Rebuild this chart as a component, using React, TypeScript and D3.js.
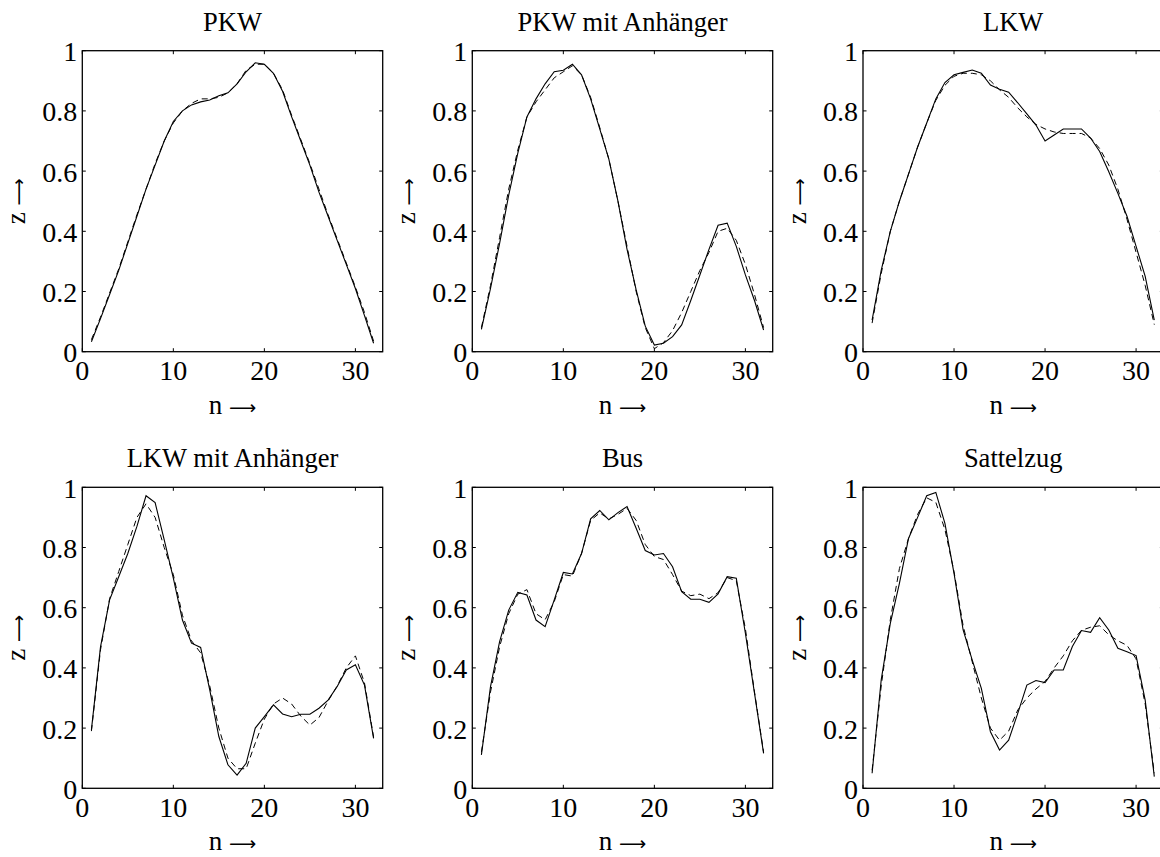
import React from "react";
import * as d3 from "d3";

const titles = ["PKW", "PKW mit Anhänger", "LKW", "LKW mit Anhänger", "Bus", "Sattelzug"];
const xTicks = [0, 10, 20, 30];
const yTicks = [0, 0.2, 0.4, 0.6, 0.8, 1];
const yTickLabels = ["0", "0.2", "0.4", "0.6", "0.8", "1"];

const pkwSolid = [0.033, 0.11, 0.19, 0.27, 0.36, 0.45, 0.54, 0.62, 0.7, 0.765, 0.8, 0.82, 0.83, 0.836, 0.85, 0.86, 0.89, 0.93, 0.96, 0.955, 0.925, 0.865, 0.78, 0.7, 0.62, 0.53, 0.45, 0.37, 0.29, 0.21, 0.12, 0.028];
const pkwDashed = [0.04, 0.115, 0.195, 0.275, 0.365, 0.455, 0.54, 0.625, 0.7, 0.76, 0.8, 0.825, 0.84, 0.84, 0.845, 0.86, 0.89, 0.935, 0.955, 0.955, 0.925, 0.87, 0.785, 0.705, 0.625, 0.54, 0.455, 0.375, 0.295, 0.215, 0.13, 0.035];

const pkwaSolid = [0.074, 0.21, 0.36, 0.52, 0.66, 0.78, 0.84, 0.89, 0.93, 0.935, 0.955, 0.92, 0.84, 0.74, 0.64, 0.5, 0.34, 0.205, 0.085, 0.022, 0.028, 0.05, 0.089, 0.17, 0.255, 0.34, 0.42, 0.427, 0.35, 0.255, 0.17, 0.072];
const pkwaDashed = [0.08, 0.22, 0.38, 0.54, 0.67, 0.78, 0.83, 0.87, 0.91, 0.93, 0.95, 0.92, 0.845, 0.745, 0.64, 0.5, 0.35, 0.2, 0.08, 0.01, 0.03, 0.07, 0.13, 0.2, 0.27, 0.33, 0.4, 0.41, 0.37, 0.29, 0.19, 0.08];

const lkwSolid = [0.105, 0.27, 0.4, 0.5, 0.59, 0.68, 0.76, 0.84, 0.894, 0.92, 0.928, 0.936, 0.925, 0.886, 0.872, 0.862, 0.827, 0.79, 0.753, 0.7, 0.72, 0.74, 0.74, 0.74, 0.71, 0.665, 0.598, 0.526, 0.45, 0.35, 0.25, 0.105];
const lkwDashed = [0.095, 0.26, 0.4, 0.5, 0.59, 0.68, 0.76, 0.835, 0.885, 0.915, 0.925, 0.925, 0.92, 0.9, 0.87, 0.845, 0.81, 0.78, 0.755, 0.74, 0.73, 0.725, 0.725, 0.725, 0.71, 0.675, 0.62, 0.54, 0.44, 0.33, 0.22, 0.09];

const lkwaSolid = [0.194, 0.47, 0.626, 0.703, 0.78, 0.87, 0.972, 0.949, 0.825, 0.698, 0.559, 0.482, 0.468, 0.327, 0.172, 0.078, 0.044, 0.083, 0.2, 0.238, 0.277, 0.247, 0.238, 0.246, 0.246, 0.266, 0.293, 0.338, 0.393, 0.41, 0.343, 0.166];
const lkwaDashed = [0.19, 0.46, 0.63, 0.72, 0.81, 0.9, 0.945, 0.9, 0.8, 0.71, 0.575, 0.49, 0.45, 0.34, 0.2, 0.1, 0.065, 0.065, 0.15, 0.23, 0.28, 0.3, 0.28, 0.24, 0.21, 0.235, 0.29, 0.34, 0.4, 0.44, 0.35, 0.17];

const busSolid = [0.111, 0.338, 0.487, 0.592, 0.651, 0.642, 0.559, 0.537, 0.626, 0.717, 0.712, 0.78, 0.895, 0.923, 0.892, 0.916, 0.936, 0.864, 0.79, 0.775, 0.78, 0.736, 0.653, 0.628, 0.628, 0.618, 0.646, 0.703, 0.698, 0.515, 0.316, 0.116];
const busDashed = [0.12, 0.32, 0.47, 0.58, 0.645, 0.66, 0.58, 0.56, 0.62, 0.71, 0.705, 0.78, 0.89, 0.915, 0.895, 0.91, 0.93, 0.89, 0.81, 0.77, 0.76, 0.71, 0.655, 0.64, 0.645, 0.63, 0.65, 0.7, 0.69, 0.53, 0.32, 0.12];

const sattelSolid = [0.05, 0.36, 0.548, 0.681, 0.83, 0.9, 0.972, 0.983, 0.88, 0.714, 0.526, 0.426, 0.332, 0.188, 0.127, 0.16, 0.249, 0.343, 0.358, 0.351, 0.393, 0.393, 0.471, 0.524, 0.518, 0.567, 0.526, 0.465, 0.454, 0.441, 0.293, 0.039];
const sattelDashed = [0.06, 0.34, 0.56, 0.73, 0.83, 0.91, 0.965, 0.95, 0.86, 0.72, 0.54, 0.42, 0.3, 0.2, 0.16, 0.19, 0.26, 0.3, 0.33, 0.355, 0.4, 0.44, 0.49, 0.525, 0.535, 0.54, 0.51, 0.49, 0.475, 0.43, 0.28, 0.05];

const solidSeries = [pkwSolid, pkwaSolid, lkwSolid, lkwaSolid, busSolid, sattelSolid];
const dashedSeries = [pkwDashed, pkwaDashed, lkwDashed, lkwaDashed, busDashed, sattelDashed];

const W = 1160;
const H = 857;
const colLefts = [82.3, 472.3, 863];
const rowTops = [50.7, 487.3];
const PW = 300.4;
const PH = 301;
const FONT = '"Liberation Serif", "DejaVu Serif", serif';
const TICK_FS = 28;
const TITLE_FS = 26.5;
const LABEL_FS = 27;
const TICK = 3.5;
const tickStyle = { fontFamily: FONT, fontSize: TICK_FS + "px" };
const titleStyle = { fontFamily: FONT, fontSize: TITLE_FS + "px" };
const labelStyle = { fontFamily: FONT, fontSize: LABEL_FS + "px" };
const arrowStyle = { fontFamily: '"DejaVu Sans", sans-serif', fontSize: "19px" };

function Panel({ idx }: { idx: number }) {
  const left = colLefts[idx % 3];
  const top = rowTops[Math.floor(idx / 3)];
  const x = d3.scaleLinear().domain([0, 33]).range([left, left + PW]);
  const y = d3.scaleLinear().domain([0, 1]).range([top + PH, top]);
  const line = d3
    .line<number>()
    .x((_, i) => x(i + 1))
    .y((d) => y(d));
  const bottom = top + PH;
  const right = left + PW;
  return (
    <g>
      <text x={left + PW / 2} y={top - 20} textAnchor="middle" style={titleStyle}>
        {titles[idx]}
      </text>
      <path d={line(solidSeries[idx]) || ""} fill="none" stroke="#000" strokeWidth={1.1} />
      <path d={line(dashedSeries[idx]) || ""} fill="none" stroke="#000" strokeWidth={1} strokeDasharray="6,4" />
      <rect x={left} y={top} width={PW} height={PH} fill="none" stroke="#000" strokeWidth={1.3} />
      {xTicks.map((t) => (
        <g key={"x" + t}>
          <line x1={x(t)} x2={x(t)} y1={bottom} y2={bottom - TICK} stroke="#000" />
          <line x1={x(t)} x2={x(t)} y1={top} y2={top + TICK} stroke="#000" />
          <text x={x(t)} y={bottom + 28.5} textAnchor="middle" style={tickStyle}>
            {t}
          </text>
        </g>
      ))}
      {yTicks.map((t, i) => (
        <g key={"y" + t}>
          <line x1={left} x2={left + TICK} y1={y(t)} y2={y(t)} stroke="#000" />
          <line x1={right} x2={right - TICK} y1={y(t)} y2={y(t)} stroke="#000" />
          <text x={left - 5} y={y(t) + 10.5} textAnchor="end" style={tickStyle}>
            {yTickLabels[i]}
          </text>
        </g>
      ))}
      <text x={left + PW / 2} y={bottom + 62} textAnchor="middle" style={labelStyle}>
        n <tspan style={arrowStyle}>⟶</tspan>
      </text>
      <text
        transform={`translate(${left - 57},${top + PH / 2}) rotate(-90)`}
        textAnchor="middle"
        style={labelStyle}
      >
        z <tspan style={arrowStyle}>⟶</tspan>
      </text>
    </g>
  );
}

export default function App() {
  return (
    <svg
      width={W}
      height={H}
      viewBox={`0 0 ${W} ${H}`}
      style={{ position: "absolute", left: 0, top: 0, background: "#fff" }}
    >
      <rect x={0} y={0} width={W} height={H} fill="#fff" />
      {[0, 1, 2, 3, 4, 5].map((i) => (
        <Panel key={i} idx={i} />
      ))}
    </svg>
  );
}
